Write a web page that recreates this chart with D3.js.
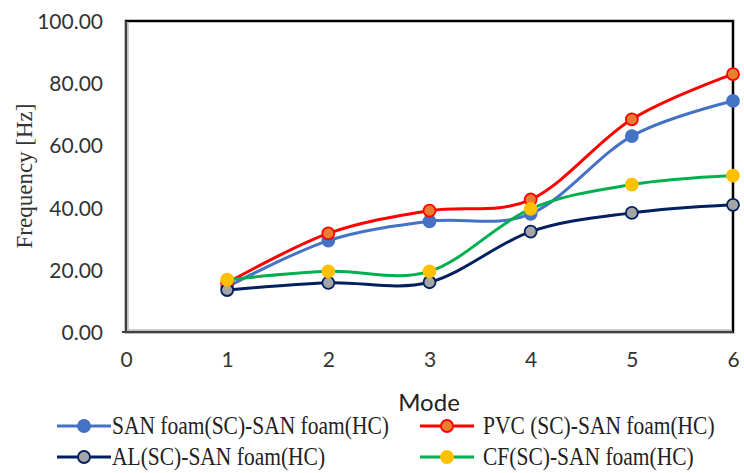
<!DOCTYPE html>
<html>
<head>
<meta charset="utf-8">
<script src="https://cdn.jsdelivr.net/npm/d3@7"></script>
<style>
  body { margin: 0; background: #fff; }
  svg { display: block; }
</style>
</head>
<body>
<svg id="chart" width="744" height="473"></svg>
<script>
// data
var modes = [1, 2, 3, 4, 5, 6];
var sanSan = [14.5, 29.4, 35.6, 38.0, 63.0, 74.3];
var pvcSan = [15.8, 31.7, 39.0, 42.6, 68.4, 82.9];
var alSan = [13.5, 15.8, 16.0, 32.3, 38.3, 40.9];
var cfSan = [16.8, 19.5, 19.5, 39.6, 47.4, 50.3];
var xTicks = [0, 1, 2, 3, 4, 5, 6];
var yTicks = [0, 20, 40, 60, 80, 100];
var seriesNames = ['SAN foam(SC)-SAN foam(HC)', 'PVC (SC)-SAN foam(HC)', 'AL(SC)-SAN foam(HC)', 'CF(SC)-SAN foam(HC)'];

var series = [
  { name: seriesNames[0], values: sanSan, line: '#4472C4', fill: '#4472C4', stroke: '#4472C4' },
  { name: seriesNames[1], values: pvcSan, line: '#FF0000', fill: '#ED7D31', stroke: '#FF0000' },
  { name: seriesNames[2], values: alSan, line: '#002060', fill: '#A5A5A5', stroke: '#002060' },
  { name: seriesNames[3], values: cfSan, line: '#00B050', fill: '#FFC000', stroke: '#FFC000' }
];

var svg = d3.select('svg#chart');
var pLeft = 126, pRight = 733, pTop = 21, pBottom = 332;

var x = d3.scaleLinear().domain([0, 6]).range([pLeft, pRight]);
var y = d3.scaleLinear().domain([0, 100]).range([pBottom, pTop]);

// frame
svg.append('rect')
  .attr('x', pLeft).attr('y', pTop)
  .attr('width', pRight - pLeft).attr('height', pBottom - pTop)
  .attr('fill', 'none')
  .attr('stroke', '#000')
  .attr('stroke-width', 2.5);

// axes lines (grey shadowed look)
svg.append('line').attr('x1', pLeft).attr('x2', pLeft).attr('y1', pTop).attr('y2', pBottom)
  .attr('stroke', '#404040').attr('stroke-width', 2);
svg.append('line').attr('x1', pLeft + 2).attr('x2', pLeft + 2).attr('y1', pTop + 1).attr('y2', pBottom - 1)
  .attr('stroke', '#c0c0c0').attr('stroke-width', 1.5);
svg.append('line').attr('x1', pLeft - 4).attr('x2', pRight).attr('y1', pBottom).attr('y2', pBottom)
  .attr('stroke', '#404040').attr('stroke-width', 2);
svg.append('line').attr('x1', pLeft + 1).attr('x2', pRight - 1).attr('y1', pBottom - 2).attr('y2', pBottom - 2)
  .attr('stroke', '#c0c0c0').attr('stroke-width', 1.5);

// y axis labels
var yAxis = d3.axisLeft(y).tickValues(yTicks).tickSize(0).tickPadding(0)
  .tickFormat(d3.format('.2f'));
var gy = svg.append('g').attr('transform', 'translate(' + (pLeft - 23) + ',0)').call(yAxis);
gy.select('.domain').remove();
gy.selectAll('text')
  .attr('font-family', 'Lato, sans-serif')
  .attr('font-size', '21px')
  .attr('fill', '#333')
  .attr('dy', '0.36em');

// x axis labels
var xAxis = d3.axisBottom(x).tickValues(xTicks).tickSize(0).tickPadding(0)
  .tickFormat(d3.format('d'));
var gx = svg.append('g').attr('transform', 'translate(0,' + (pBottom + 24) + ')').call(xAxis);
gx.select('.domain').remove();
gx.selectAll('text')
  .attr('font-family', 'Lato, sans-serif')
  .attr('font-size', '21px')
  .attr('fill', '#333')
  .attr('dy', '0.5em');

// titles
svg.append('text')
  .attr('x', 429).attr('y', 411)
  .attr('text-anchor', 'middle')
  .attr('font-family', 'Lato, sans-serif')
  .attr('font-size', '24px')
  .attr('fill', '#222')
  .text('Mode');

svg.append('text')
  .attr('transform', 'translate(32,176) rotate(-90)')
  .attr('text-anchor', 'middle')
  .attr('font-family', '"Liberation Serif", serif')
  .attr('font-size', '23px')
  .attr('fill', '#333')
  .text('Frequency [Hz]');

// lines and markers
var line = d3.line()
  .x(function (d, i) { return x(modes[i]); })
  .y(function (d) { return y(d); })
  .curve(d3.curveCatmullRom.alpha(0));

series.forEach(function (s) {
  var g = svg.append('g');
  g.append('path')
    .attr('d', line(s.values))
    .attr('fill', 'none')
    .attr('stroke', s.line)
    .attr('stroke-width', 3);
  g.selectAll('circle').data(s.values).enter()
    .append('circle')
    .attr('cx', function (d, i) { return x(modes[i]); })
    .attr('cy', function (d) { return y(d); })
    .attr('r', 6)
    .attr('fill', s.fill)
    .attr('stroke', s.stroke)
    .attr('stroke-width', 1.8);
});

// legend
var legendPos = [[57, 426], [420, 426], [57, 457], [420, 457]];
series.forEach(function (s, i) {
  var p = legendPos[i];
  var g = svg.append('g').attr('transform', 'translate(' + p[0] + ',' + p[1] + ')');
  g.append('line').attr('x1', 0).attr('x2', 54).attr('y1', 0).attr('y2', 0)
    .attr('stroke', s.line).attr('stroke-width', 3);
  g.append('circle').attr('cx', 27).attr('cy', 0).attr('r', 6)
    .attr('fill', s.fill).attr('stroke', s.stroke).attr('stroke-width', 1.8);
  // reference text is a little taller than wide, so stretch it vertically
  g.append('text')
    .attr('transform', 'translate(' + (i % 2 === 0 ? 55 : 63) + ',8) scale(1,1.15)')
    .attr('font-family', '"Liberation Serif", serif')
    .attr('font-size', '21.5px')
    .attr('fill', '#222')
    .text(s.name);
});
</script>
</body>
</html>
